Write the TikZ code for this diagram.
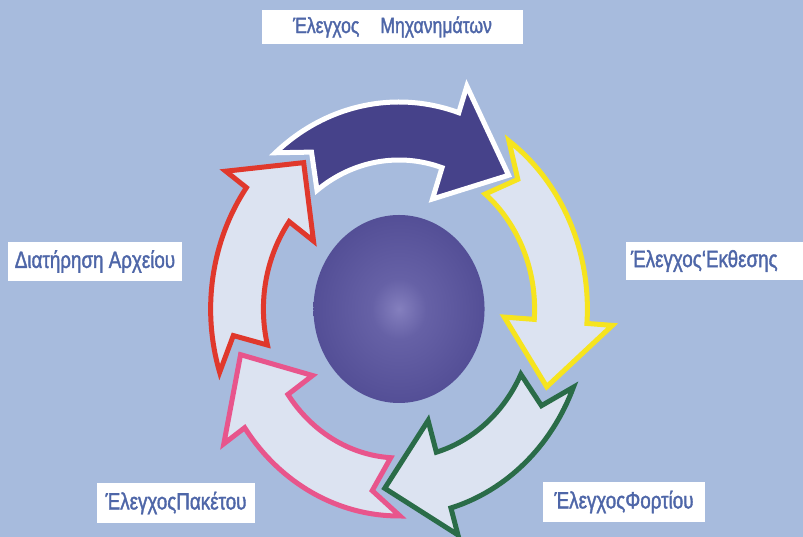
\documentclass[tikz,border=0pt]{standalone}
\usepackage{fontspec}
\setmainfont{Liberation Sans}
\newfontfamily\lblfont[FakeStretch=0.8, FakeBold=1.5]{Liberation Sans}
\definecolor{bgblue}{RGB}{167,187,221}
\definecolor{navyfill}{RGB}{70,66,138}
\definecolor{lightfill}{RGB}{220,227,241}
\definecolor{cyyellow}{RGB}{246,228,30}
\definecolor{cygreen}{RGB}{42,108,72}
\definecolor{cypink}{RGB}{232,85,140}
\definecolor{cyred}{RGB}{224,56,44}
\definecolor{lbltext}{RGB}{78,102,168}
\definecolor{sphA}{RGB}{132,127,190}
\definecolor{sphB}{RGB}{102,97,166}
\definecolor{sphC}{RGB}{74,69,142}
\definecolor{sphD}{RGB}{48,44,110}
\pgfdeclareradialshading{spheresh}{\pgfpoint{0bp}{0bp}}{color(0bp)=(sphA); color(8bp)=(sphB); color(34bp)=(sphC); color(50bp)=(sphD)}
\tikzset{
  arrowline/.style={line width=5pt, line join=miter, miter limit=10},
  lbl/.style={fill=white, text=lbltext, font=\lblfont\fontsize{23.5}{25}\selectfont, inner sep=0pt, align=center}
}
\def\Rout{207}
\def\Rin{149}
\def\Rbo{235}
\def\Rbi{116}
\def\Rtip{180}
\def\Rnotch{184}
\newcommand{\cycarrow}[5]{%
  \pgfmathsetmacro{\cyTin}{#1-3.8}%
  \pgfmathsetmacro{\cyTn}{#1-9.5}%
  \filldraw[arrowline, fill=#4, draw=#5]
    (#1:\Rout) arc[start angle=#1, end angle=#2, radius=\Rout]
    -- (#2:\Rbo) -- (#3:\Rtip) -- (#2:\Rbi) -- (#2:\Rin)
    arc[start angle=#2, end angle=\cyTin, radius=\Rin]
    -- (\cyTn:\Rnotch) -- cycle;
}
\begin{document}
\begin{tikzpicture}[x=1pt,y=1pt]
\path[fill=bgblue] (0,0) rectangle (803,537);
\useasboundingbox (0,0) rectangle (803,537);
\begin{scope}[shift={(399,228)}, xscale=0.91]
  \cycarrow{197.8}{144.1}{125.6}{lightfill}{cyred}
  \cycarrow{-89.7}{-145}{-165.3}{lightfill}{cypink}
  \cycarrow{-22.2}{-74}{-95}{lightfill}{cygreen}
  \cycarrow{54.3}{-4}{-25.6}{lightfill}{cyyellow}
  \cycarrow{131}{71.5}{48}{navyfill}{white}
  \shade[shading=spheresh] (0,0) ellipse [x radius=94, y radius=94];
\end{scope}
\node[lbl, font=\lblfont\fontsize{22}{24}\selectfont, minimum width=261, minimum height=34] (lmach) at (392.5,510) {Έλεγχος\hspace{21pt}Μηχανημάτων};
\node[lbl, minimum width=174, minimum height=39] (larch) at (95,275.5) {Διατήρηση Αρχείου};
\node[lbl, align=left, text width=167, inner xsep=5, minimum height=38] (lexp) at (714.5,276) {Έλεγχος‘Εκθεσης};
\node[lbl, minimum width=158, minimum height=40] (lpack) at (176,34) {ΈλεγχοςΠακέτου};
\node[lbl, minimum width=162, minimum height=40] (lload) at (624,35) {ΈλεγχοςΦορτίου};
\end{tikzpicture}
\end{document}
